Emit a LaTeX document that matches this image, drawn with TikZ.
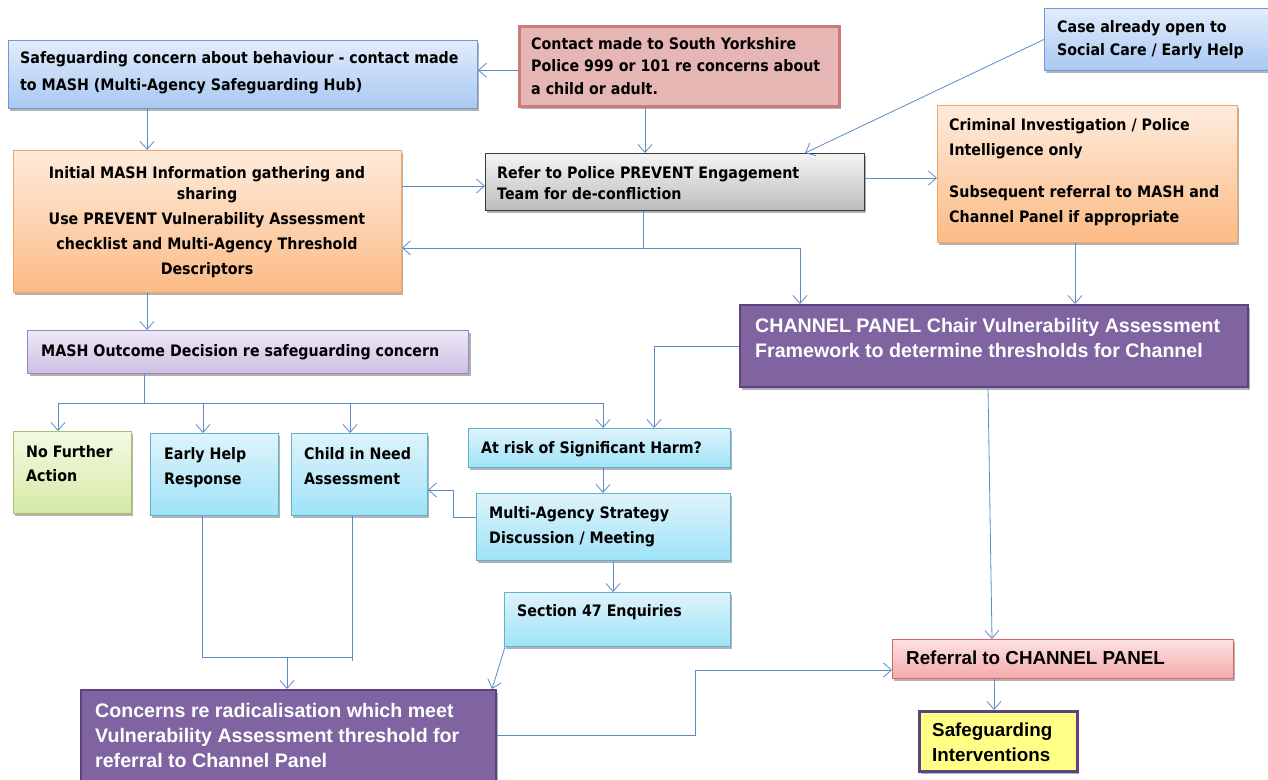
\documentclass[tikz,border=0pt]{standalone}
\usepackage{fontspec}
\setmainfont{DejaVu Sans}[FakeStretch=0.9]
\newfontfamily\arialb{Liberation Sans}
\usetikzlibrary{arrows.meta,shadows}

\definecolor{lnc}{HTML}{5B8CC8}
\definecolor{bluetop}{HTML}{E2ECFB}
\definecolor{bluebot}{HTML}{A8C8F2}
\definecolor{blueedge}{HTML}{6F9AD4}
\definecolor{redfill}{HTML}{E6B6B5}
\definecolor{rededge}{HTML}{CD7B7A}
\definecolor{graytop}{HTML}{F4F4F4}
\definecolor{graybot}{HTML}{BDBDBD}
\definecolor{grayedge}{HTML}{3A3A3A}
\definecolor{orgtop}{HTML}{FEEBDC}
\definecolor{orgbot}{HTML}{FBBB85}
\definecolor{orgedge}{HTML}{F6A562}
\definecolor{lavtop}{HTML}{EEE8F6}
\definecolor{lavbot}{HTML}{CDBFE2}
\definecolor{lavedge}{HTML}{9C86C0}
\definecolor{purfill}{HTML}{8064A2}
\definecolor{puredge}{HTML}{5C4480}
\definecolor{grntop}{HTML}{F3F9E2}
\definecolor{grnbot}{HTML}{D6E9A6}
\definecolor{grnedge}{HTML}{A4C46A}
\definecolor{cyntop}{HTML}{DFF3FA}
\definecolor{cynbot}{HTML}{9EE3F8}
\definecolor{cynedge}{HTML}{5FB3CF}
\definecolor{pnktop}{HTML}{FCE2E2}
\definecolor{pnkbot}{HTML}{F5A9A9}
\definecolor{pnkedge}{HTML}{D46767}
\definecolor{yelfill}{HTML}{FFFF88}

\begin{document}
\begin{tikzpicture}[x=1pt,y=-1pt,
  box/.style={rectangle, draw, line width=0.9pt, anchor=north west, inner sep=0pt,
    drop shadow={shadow xshift=2pt, shadow yshift=-2.5pt, opacity=0.3, fill=black}},
  bluebox/.style={box, draw=blueedge, top color=bluetop, bottom color=bluebot},
  redbox/.style={box, draw=rededge, line width=2.5pt, fill=redfill},
  graybox/.style={box, draw=grayedge, top color=graytop, bottom color=graybot},
  orgbox/.style={box, draw=orgedge, top color=orgtop, bottom color=orgbot},
  lavbox/.style={box, draw=lavedge, line width=1.2pt, top color=lavtop, bottom color=lavbot},
  purbox/.style={box, draw=puredge, line width=2pt, fill=purfill},
  grnbox/.style={box, draw=grnedge, top color=grntop, bottom color=grnbot},
  cynbox/.style={box, draw=cynedge, top color=cyntop, bottom color=cynbot},
  pnkbox/.style={box, draw=pnkedge, top color=pnktop, bottom color=pnkbot},
  yelbox/.style={box, draw=puredge, line width=2.5pt, fill=yelfill},
  txt/.style={anchor=north west, inner sep=0pt, align=left, text=black,
    font=\fontsize{15.8}{25}\selectfont\bfseries},
  wtxt/.style={anchor=north west, inner sep=0pt, align=left, text=white,
    font=\arialb\fontsize{19.6}{25}\selectfont\bfseries},
  atxt/.style={anchor=north west, inner sep=0pt, align=left, text=black,
    font=\arialb\fontsize{18.8}{25}\selectfont\bfseries},
  ln/.style={draw=lnc, line width=0.8pt},
  arr/.style={ln, -{Straight Barb[length=8pt, width=14pt, line width=0.8pt]}}]
\useasboundingbox (0,0) rectangle (1268,779);

% ---- boxes ----
\node[bluebox, minimum width=469pt, minimum height=68pt] (A) at (8,40) {};
\node[redbox, minimum width=320pt, minimum height=80pt] (B) at (518,25) {};
\node[bluebox, minimum width=226pt, minimum height=62pt] (C) at (1044,8) {};
\node[graybox, minimum width=379pt, minimum height=57pt] (D) at (485,153) {};
\node[orgbox, minimum width=300pt, minimum height=137pt] (E) at (937,105) {};
\node[orgbox, minimum width=388pt, minimum height=142pt] (F) at (13,150) {};
\node[lavbox, minimum width=441pt, minimum height=43pt] (G) at (27,330) {};
\node[purbox, minimum width=508pt, minimum height=82pt] (H) at (739,304) {};
\node[grnbox, minimum width=118pt, minimum height=82pt] (I) at (13,431) {};
\node[cynbox, minimum width=128pt, minimum height=82pt] (J) at (150,433) {};
\node[cynbox, minimum width=136pt, minimum height=82pt] (K) at (291,433) {};
\node[cynbox, minimum width=262pt, minimum height=39pt] (L) at (468,428) {};
\node[cynbox, minimum width=254pt, minimum height=67pt] (M) at (476,493) {};
\node[cynbox, minimum width=226pt, minimum height=54pt] (N) at (504,592) {};
\node[purbox, minimum width=415pt, minimum height=100pt] (O) at (80,689) {};
\node[pnkbox, minimum width=341pt, minimum height=39pt] (P) at (892,639) {};
\node[yelbox, minimum width=158pt, minimum height=60pt] (Q) at (918,710) {};

% ---- texts ----
\node[txt, font=\fontsize{15.8}{27.5}\selectfont\bfseries] (At) at (20,51)
  {Safeguarding concern about behaviour - contact made\\to MASH (Multi-Agency Safeguarding Hub)};
\node[txt, font=\fontsize{15.8}{22.5}\selectfont\bfseries] (Bt) at (531,37)
  {Contact made to South Yorkshire\\Police 999 or 101 re concerns about\\a child or adult.};
\node[txt, font=\fontsize{15.8}{23}\selectfont\bfseries] (Ct) at (1057,20)
  {Case already open to\\Social Care / Early Help};
\node[txt, font=\fontsize{15.8}{21}\selectfont\bfseries] (Dt) at (497,166)
  {Refer to Police PREVENT Engagement\\Team for de-confliction};
\node[txt] (Et) at (949,118)
  {Criminal Investigation / Police\\Intelligence only\\[17pt]Subsequent referral to MASH and\\Channel Panel if appropriate};
\node[txt, anchor=north, align=center] (Ft) at (207,166)
  {Initial MASH Information gathering and\\[-4pt]sharing\\Use PREVENT Vulnerability Assessment\\checklist and Multi-Agency Threshold\\Descriptors};
\node[txt] (Gt) at (41,344) {MASH Outcome Decision re safeguarding concern};
\node[wtxt] (Ht) at (755,318)
  {CHANNEL PANEL Chair Vulnerability Assessment\\Framework to determine thresholds for Channel};
\node[txt, font=\fontsize{15.8}{24}\selectfont\bfseries] (It) at (26,445) {No Further\\Action};
\node[txt] (Jt) at (164,447) {Early Help\\Response};
\node[txt] (Kt) at (304,447) {Child in Need\\Assessment};
\node[txt] (Lt) at (481,441) {At risk of Significant Harm?};
\node[txt] (Mt) at (489,506) {Multi-Agency Strategy\\Discussion / Meeting};
\node[txt] (Nt) at (517,604) {Section 47 Enquiries};
\node[wtxt] (Ot) at (95,703)
  {Concerns re radicalisation which meet\\Vulnerability Assessment threshold for\\referral to Channel Panel};
\node[atxt] (Pt) at (906,651) {Referral to CHANNEL PANEL};
\node[atxt] (Qt) at (932,723) {Safeguarding\\Interventions};

% ---- connectors ----
\coordinate (b1) at ([yshift=-4pt]B.west);
\draw[arr] (b1) -- (b1 -| A.east);
\coordinate (a1) at ([xshift=139pt]A.south west);
\draw[arr] (a1) -- (a1 |- F.north);
\coordinate (b2) at ([xshift=127pt]B.south west);
\draw[arr] (b2) -- (b2 |- D.north);
\draw[arr] (C.west) -- ([xshift=320pt]D.north west);
\coordinate (f1) at ([yshift=-36pt]F.north east);
\draw[arr] (f1) -- (f1 -| D.west);
\coordinate (d1) at ([xshift=158pt]D.south west);
\coordinate (dsplit) at ([yshift=-37pt]d1);
\draw[ln] (d1) -- (dsplit);
\draw[arr] (dsplit) -- (dsplit -| F.east);
\draw[arr] (dsplit) -| ([xshift=61pt]H.north west);
\coordinate (d2) at ([yshift=-25pt]D.north east);
\draw[arr] (d2) -- (d2 -| E.west);
\coordinate (e1) at ([xshift=138pt]E.south west);
\draw[arr] (e1) -- (e1 |- H.north);
\coordinate (f2) at ([xshift=134pt]F.south west);
\draw[arr] (f2) -- (f2 |- G.north);

% outcome bus
\coordinate (g1) at ([xshift=117pt]G.south west);
\coordinate (bus) at ([yshift=-29pt]g1);
\draw[ln] (g1) -- (bus);
\draw[arr] (bus) -| ([xshift=45pt]I.north west);
\draw[arr] (bus) -| ([xshift=53pt]J.north west);
\draw[arr] (bus) -| ([xshift=59pt]K.north west);
\draw[arr] (bus) -| ([xshift=135pt]L.north west);

\draw[arr] (H.west) -| ([xshift=186pt]L.north west);
\coordinate (l1) at ([xshift=135pt]L.south west);
\draw[arr] (l1) -- (l1 |- M.north);
\coordinate (m1) at ([yshift=-24pt]M.north west);
\coordinate (m2) at ([xshift=-23pt]m1);
\coordinate (k1) at ([yshift=-57pt]K.north east);
\draw[arr] (m1) -- (m2) |- (k1);
\coordinate (m3) at ([xshift=137pt]M.south west);
\draw[arr] (m3) -- (m3 |- N.north);

% early help / child in need to concerns
\coordinate (j1) at ([xshift=52pt]J.south west);
\coordinate (k2) at ([xshift=61pt]K.south west);
\coordinate (jk) at ([yshift=-141pt]j1);
\draw[ln] (j1) -- (jk) -- (jk -| k2);
\draw[ln] (k2) -- ([yshift=-145pt]k2);
\coordinate (o1) at ([xshift=207pt]O.north west);
\draw[arr] (jk -| o1) -- (o1);
\draw[arr] ([xshift=1pt]N.south west) -- ([xshift=-5pt]O.north east);

\coordinate (o2) at ([yshift=-46pt]O.north east);
\coordinate (o3) at ([xshift=198pt]o2);
\coordinate (p1) at ([yshift=-31pt]P.north west);
\draw[arr] (o2) -- (o3) |- (p1);
\draw[arr] ([xshift=249pt]H.south west) -- ([xshift=100pt]P.north west);
\coordinate (p2) at ([xshift=102pt]P.south west);
\draw[arr] (p2) -- (p2 |- Q.north);
\end{tikzpicture}
\end{document}
